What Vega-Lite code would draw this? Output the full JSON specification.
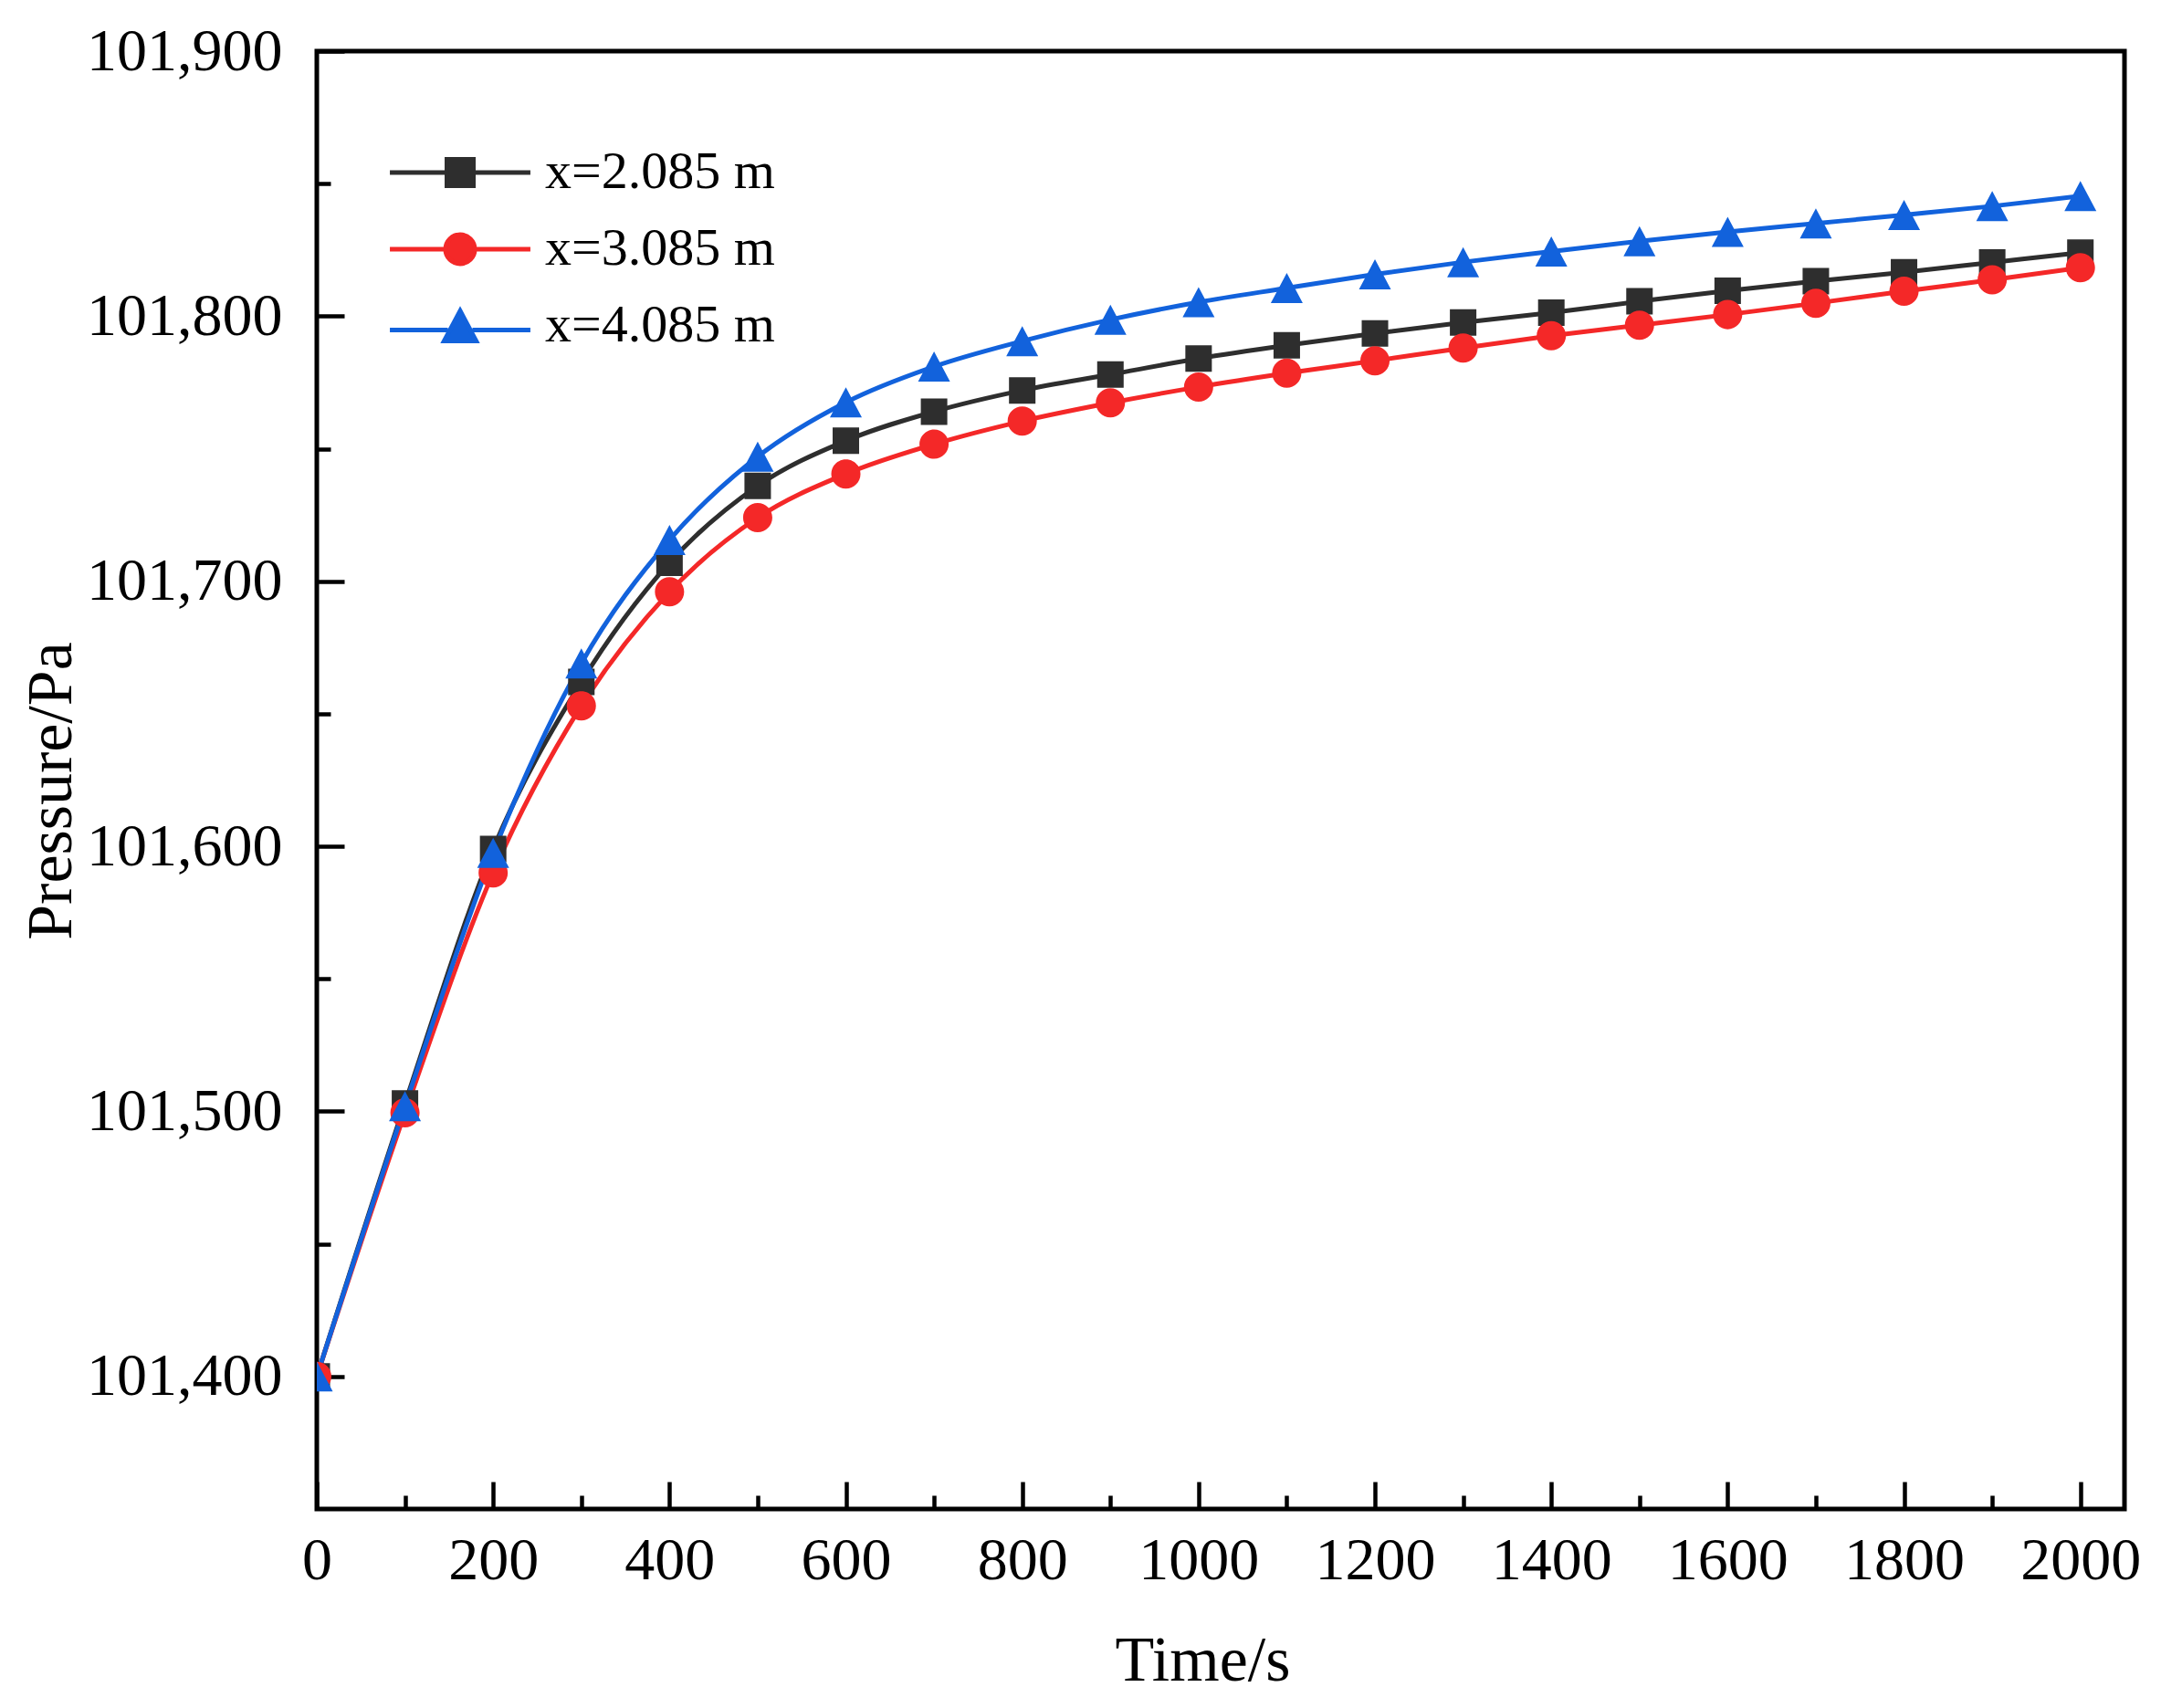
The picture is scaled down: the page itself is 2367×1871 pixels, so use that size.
{
  "$schema": "https://vega.github.io/schema/vega-lite/v6.json",
  "width": 1980,
  "height": 1597,
  "autosize": "none",
  "padding": {"left": 347, "top": 56, "right": 40, "bottom": 218},
  "background": "#ffffff",
  "config": {
    "view": {"stroke": "#000000", "strokeWidth": 5},
    "font": "Liberation Serif",
    "axis": {
      "domain": false,
      "grid": false,
      "tickColor": "#000000",
      "tickWidth": 4.5,
      "labelFont": "Liberation Serif",
      "labelFontSize": 66,
      "labelColor": "#000000",
      "labelLimit": 0,
      "labelFlush": false,
      "labelOverlap": false,
      "titleFont": "Liberation Serif",
      "titleFontSize": 70,
      "titleFontWeight": "normal",
      "titleColor": "#000000"
    },
    "legend": {"labelLimit": 0}
  },
  "data": {
    "values": [
      {"t": 0, "P": 101400, "s": "x=2.085 m"},
      {"t": 100, "P": 101503, "s": "x=2.085 m"},
      {"t": 200, "P": 101599, "s": "x=2.085 m"},
      {"t": 300, "P": 101662, "s": "x=2.085 m"},
      {"t": 400, "P": 101707, "s": "x=2.085 m"},
      {"t": 500, "P": 101736, "s": "x=2.085 m"},
      {"t": 600, "P": 101753, "s": "x=2.085 m"},
      {"t": 700, "P": 101764, "s": "x=2.085 m"},
      {"t": 800, "P": 101772, "s": "x=2.085 m"},
      {"t": 900, "P": 101778, "s": "x=2.085 m"},
      {"t": 1000, "P": 101784, "s": "x=2.085 m"},
      {"t": 1100, "P": 101789, "s": "x=2.085 m"},
      {"t": 1200, "P": 101793.5, "s": "x=2.085 m"},
      {"t": 1300, "P": 101797.6, "s": "x=2.085 m"},
      {"t": 1400, "P": 101801.3, "s": "x=2.085 m"},
      {"t": 1500, "P": 101805.6, "s": "x=2.085 m"},
      {"t": 1600, "P": 101809.6, "s": "x=2.085 m"},
      {"t": 1700, "P": 101813.2, "s": "x=2.085 m"},
      {"t": 1800, "P": 101816.6, "s": "x=2.085 m"},
      {"t": 1900, "P": 101820.3, "s": "x=2.085 m"},
      {"t": 2000, "P": 101824, "s": "x=2.085 m"},
      {"t": 0, "P": 101400, "s": "x=3.085 m"},
      {"t": 100, "P": 101499.5, "s": "x=3.085 m"},
      {"t": 200, "P": 101590, "s": "x=3.085 m"},
      {"t": 300, "P": 101653, "s": "x=3.085 m"},
      {"t": 400, "P": 101696, "s": "x=3.085 m"},
      {"t": 500, "P": 101724, "s": "x=3.085 m"},
      {"t": 600, "P": 101740.5, "s": "x=3.085 m"},
      {"t": 700, "P": 101751.7, "s": "x=3.085 m"},
      {"t": 800, "P": 101760.4, "s": "x=3.085 m"},
      {"t": 900, "P": 101767.3, "s": "x=3.085 m"},
      {"t": 1000, "P": 101773.3, "s": "x=3.085 m"},
      {"t": 1100, "P": 101778.5, "s": "x=3.085 m"},
      {"t": 1200, "P": 101783.2, "s": "x=3.085 m"},
      {"t": 1300, "P": 101788, "s": "x=3.085 m"},
      {"t": 1400, "P": 101792.6, "s": "x=3.085 m"},
      {"t": 1500, "P": 101796.6, "s": "x=3.085 m"},
      {"t": 1600, "P": 101800.6, "s": "x=3.085 m"},
      {"t": 1700, "P": 101804.9, "s": "x=3.085 m"},
      {"t": 1800, "P": 101809.4, "s": "x=3.085 m"},
      {"t": 1900, "P": 101813.7, "s": "x=3.085 m"},
      {"t": 2000, "P": 101818.3, "s": "x=3.085 m"},
      {"t": 0, "P": 101400, "s": "x=4.085 m"},
      {"t": 100, "P": 101502, "s": "x=4.085 m"},
      {"t": 200, "P": 101597.5, "s": "x=4.085 m"},
      {"t": 300, "P": 101669, "s": "x=4.085 m"},
      {"t": 400, "P": 101715.6, "s": "x=4.085 m"},
      {"t": 500, "P": 101747, "s": "x=4.085 m"},
      {"t": 600, "P": 101767.5, "s": "x=4.085 m"},
      {"t": 700, "P": 101781, "s": "x=4.085 m"},
      {"t": 800, "P": 101790.6, "s": "x=4.085 m"},
      {"t": 900, "P": 101798.7, "s": "x=4.085 m"},
      {"t": 1000, "P": 101805.3, "s": "x=4.085 m"},
      {"t": 1100, "P": 101810.6, "s": "x=4.085 m"},
      {"t": 1200, "P": 101815.8, "s": "x=4.085 m"},
      {"t": 1300, "P": 101820.4, "s": "x=4.085 m"},
      {"t": 1400, "P": 101824.4, "s": "x=4.085 m"},
      {"t": 1500, "P": 101828.3, "s": "x=4.085 m"},
      {"t": 1600, "P": 101831.8, "s": "x=4.085 m"},
      {"t": 1700, "P": 101835, "s": "x=4.085 m"},
      {"t": 1800, "P": 101838.2, "s": "x=4.085 m"},
      {"t": 1900, "P": 101841.5, "s": "x=4.085 m"},
      {"t": 2000, "P": 101845.3, "s": "x=4.085 m"}
    ]
  },
  "layer": [
    {
      "mark": {"type": "line", "interpolate": "monotone", "strokeWidth": 5, "clip": true},
      "encoding": {
        "x": {
          "field": "t",
          "type": "quantitative",
          "scale": {"domain": [0, 2050], "nice": false, "zero": false},
          "axis": {
            "orient": "bottom",
            "values": [0, 200, 400, 600, 800, 1000, 1200, 1400, 1600, 1800, 2000],
            "format": "d",
            "tickSize": -30,
            "labelPadding": 54,
            "title": "Time/s",
            "titlePadding": 43,
            "titleX": 970
          }
        },
        "y": {
          "field": "P",
          "type": "quantitative",
          "scale": {"domain": [101350, 101900], "nice": false, "zero": false},
          "axis": {
            "orient": "left",
            "values": [101400, 101500, 101600, 101700, 101800, 101900],
            "format": ",d",
            "tickSize": -30,
            "labelPadding": 68,
            "title": "Pressure/Pa",
            "titleX": -291,
            "titleY": 810,
            "titleBaseline": "middle",
            "titleAngle": -90
          }
        },
        "color": {
          "field": "s",
          "type": "nominal",
          "scale": {
            "domain": ["x=2.085 m", "x=3.085 m", "x=4.085 m"],
            "range": ["#2e2e2e", "#f42828", "#1262dc"]
          },
          "legend": {
            "title": null,
            "orient": "none",
            "legendX": 128,
            "legendY": 104,
            "padding": 0,
            "symbolSize": 900,
            "symbolStrokeWidth": 5,
            "labelFont": "Liberation Serif",
            "labelFontSize": 58,
            "labelColor": "#000000",
            "labelLimit": 0,
            "labelOffset": 64,
            "rowPadding": 26,
            "encode": {
              "symbols": {
                "update": {
                  "stroke": {"scale": "color", "field": "value"},
                  "strokeWidth": {"value": 5},
                  "opacity": {"value": 1}
                }
              }
            }
          }
        }
      }
    },
    {
      "mark": {"type": "point", "filled": true, "opacity": 1, "size": 900, "strokeWidth": 0, "clip": true},
      "encoding": {
        "x": {
          "field": "t",
          "type": "quantitative",
          "axis": {
            "orient": "bottom",
            "values": [100, 300, 500, 700, 900, 1100, 1300, 1500, 1700, 1900],
            "tickSize": -15,
            "labels": false,
            "title": null
          }
        },
        "y": {
          "field": "P",
          "type": "quantitative",
          "axis": {
            "orient": "left",
            "values": [101450, 101550, 101650, 101750, 101850],
            "tickSize": -15,
            "labels": false,
            "title": null
          }
        },
        "color": {"field": "s", "type": "nominal"},
        "shape": {
          "field": "s",
          "type": "nominal",
          "scale": {
            "domain": ["x=2.085 m", "x=3.085 m", "x=4.085 m"],
            "range": [
              "M-5.13,0H-0.97M0.97,0H5.13M-0.967,-0.967H0.967V0.967H-0.967Z",
              "M-5.13,0H-1.067M1.067,0H5.13M-1.067,0A1.067,1.067,0,1,0,1.067,0A1.067,1.067,0,1,0,-1.067,0Z",
              "M-5.13,0.3H-0.9M0.9,0.3H5.13M0,-1.1L1.167,1.1L-1.167,1.1Z"
            ]
          },
          "legend": {
            "title": null,
            "orient": "none",
            "legendX": 128,
            "legendY": 104,
            "padding": 0,
            "symbolSize": 900,
            "symbolStrokeWidth": 5,
            "labelFont": "Liberation Serif",
            "labelFontSize": 58,
            "labelColor": "#000000",
            "labelLimit": 0,
            "labelOffset": 64,
            "rowPadding": 26
          }
        }
      }
    }
  ],
  "resolve": {"axis": {"x": "independent", "y": "independent"}}
}
